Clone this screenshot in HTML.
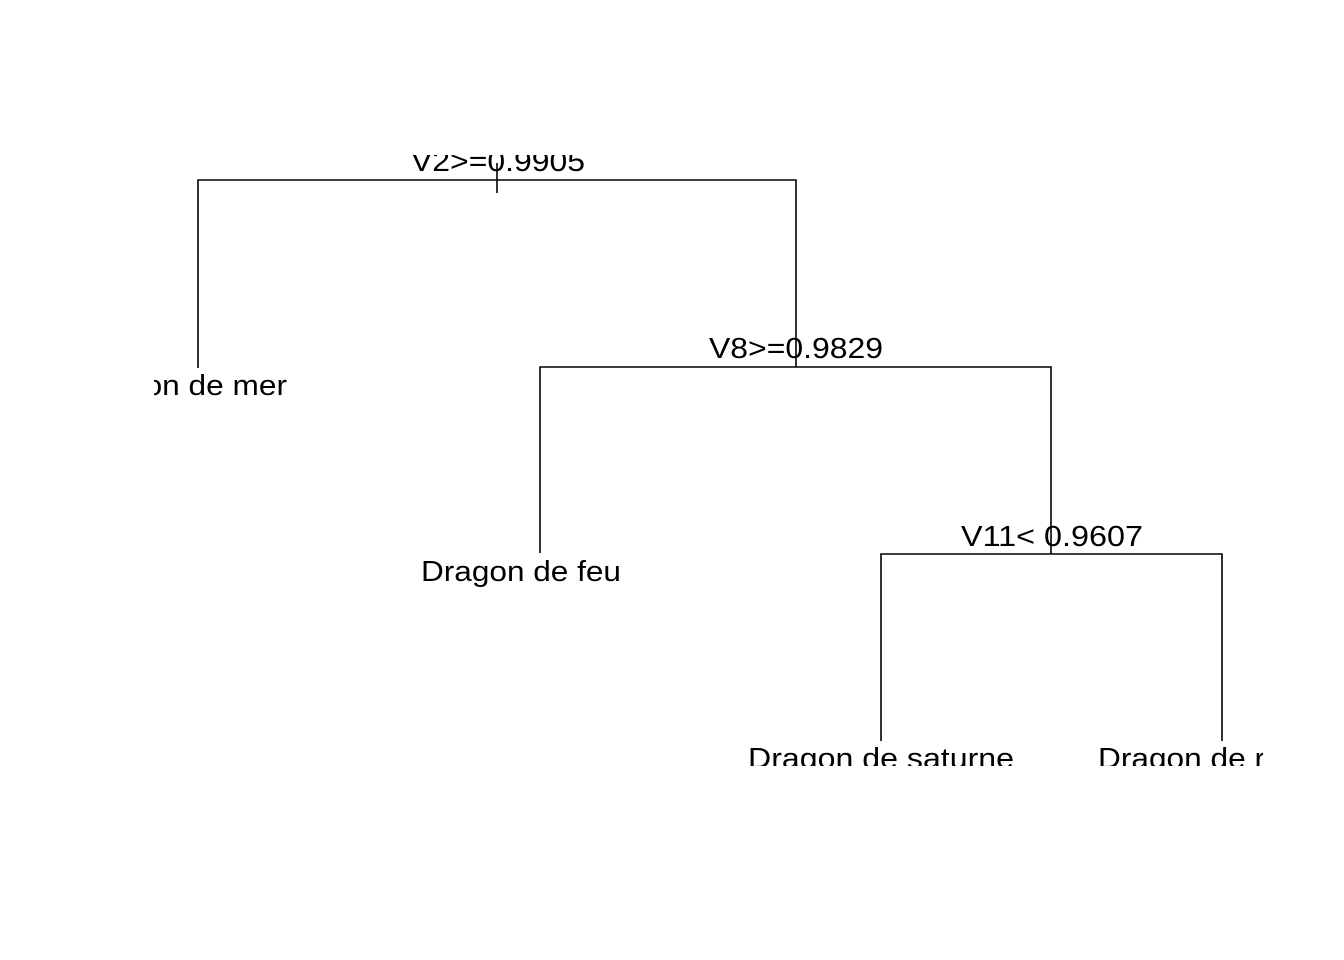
<!DOCTYPE html>
<html><head><style>html,body{margin:0;padding:0;background:#fff}svg{display:block}</style></head>
<body>
<svg width="1344" height="960" viewBox="0 0 1344 960" xmlns="http://www.w3.org/2000/svg">
<defs><clipPath id="c"><rect x="154" y="155" width="1109" height="611"/></clipPath></defs>
<g clip-path="url(#c)" font-family="Liberation Sans, Arial, sans-serif" font-size="29" fill="#000">
<g stroke="#000" stroke-width="1.6" fill="none">
<path d="M198 368 V180 H796 V367"/>
<path d="M497 163 V193"/>
<path d="M540 553 V367 H1051 V554"/>
<path d="M881 741 V554 H1222 V741"/>
</g>
<text x="411" y="171" textLength="174" lengthAdjust="spacingAndGlyphs">V2&gt;=0.9905</text>
<text x="709" y="358" textLength="174" lengthAdjust="spacingAndGlyphs">V8&gt;=0.9829</text>
<text x="961" y="546" textLength="182" lengthAdjust="spacingAndGlyphs">V11&lt; 0.9607</text>
<text x="76" y="395" textLength="211" lengthAdjust="spacingAndGlyphs">Dragon de mer</text>
<text x="421" y="581" textLength="200" lengthAdjust="spacingAndGlyphs">Dragon de feu</text>
<text x="748" y="768" textLength="266" lengthAdjust="spacingAndGlyphs">Dragon de saturne</text>
<text x="1098" y="768" textLength="167" lengthAdjust="spacingAndGlyphs">Dragon de r</text>
</g>
</svg>
</body></html>
